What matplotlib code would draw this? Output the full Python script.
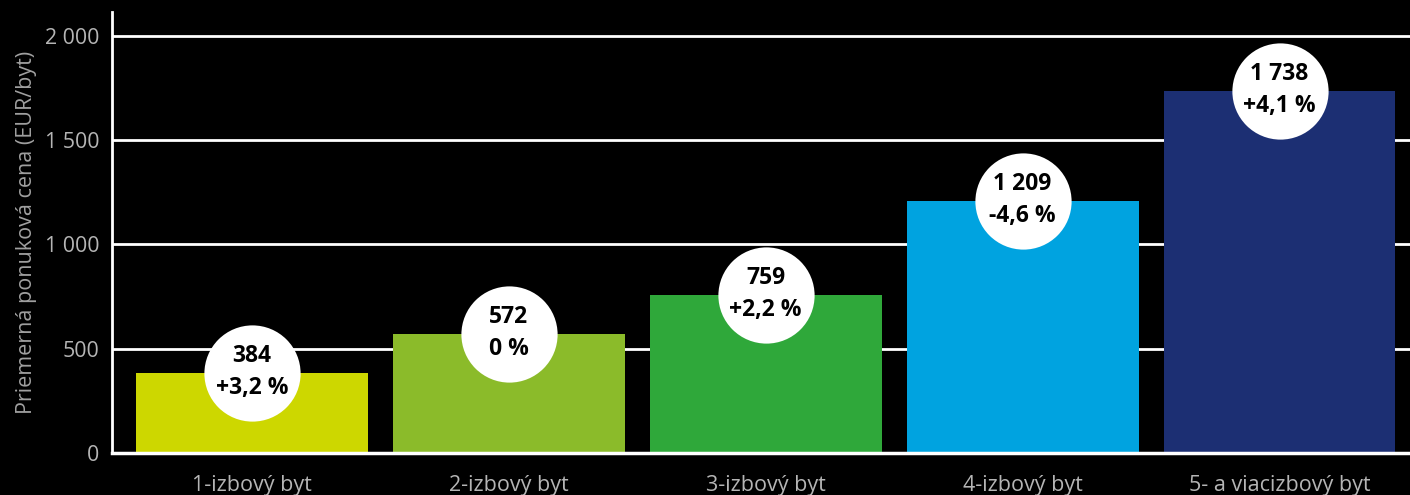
import matplotlib.pyplot as plt

categories = ["1-izbový byt", "2-izbový byt", "3-izbový byt", "4-izbový byt", "5- a viacizbový byt"]
prices = [384, 572, 759, 1209, 1738]
price_labels = ["384", "572", "759", "1 209", "1 738"]
change_labels = ["+3,2 %", "0 %", "+2,2 %", "-4,6 %", "+4,1 %"]
colors = ["#cdd700", "#8bbb2a", "#2fa83a", "#00a3e0", "#1c2f73"]
yticks = [0, 500, 1000, 1500, 2000]
ytick_labels = ["0", "500", "1 000", "1 500", "2 000"]

plt.rcParams['font.family'] = ['Open Sans', 'DejaVu Sans']

fig = plt.figure(figsize=(14.1, 4.95), dpi=100, facecolor="black")
ax = fig.add_axes([0.0794, 0.0848, 0.9206, 0.891])
ax.set_facecolor("black")

x = list(range(len(categories)))
ax.set_axisbelow(True)
ax.yaxis.grid(True, color="white", linewidth=2)
ax.bar(x, prices, width=0.903, color=colors, zorder=2)

# white bubbles with value and change
ax.scatter(x, prices, s=4800, color="white", zorder=3, linewidths=0)
for i in x:
    ax.annotate(price_labels[i], (i, prices[i]), xytext=(0, 17), textcoords="offset pixels",
                ha="center", va="center", fontsize=16.5, fontweight="bold", color="black", zorder=4)
    ax.annotate(change_labels[i], (i, prices[i]), xytext=(0, -15), textcoords="offset pixels",
                ha="center", va="center", fontsize=16.5, fontweight="bold", color="black", zorder=4)

ax.set_xlim(-0.545, 4.508)
ax.set_ylim(0, 2115)
ax.set_yticks(yticks)
ax.set_yticklabels(ytick_labels)
ax.set_xticks(x)
ax.set_xticklabels(categories)
ax.tick_params(axis="y", length=0, pad=9, labelsize=15.4, labelcolor="#b5b5b5")
ax.tick_params(axis="x", length=0, pad=16, labelsize=15.5, labelcolor="#b5b5b5")
ax.set_ylabel("Priemerná ponuková cena (EUR/byt)", color="#a0a0a0", fontsize=15.5, labelpad=6)

for side in ["top", "right"]:
    ax.spines[side].set_visible(False)
ax.spines["left"].set_color("white")
ax.spines["left"].set_linewidth(2)
ax.spines["bottom"].set_color("white")
ax.spines["bottom"].set_linewidth(2.5)
ax.spines["bottom"].set_zorder(5)

fig.savefig("out.png", dpi=100, facecolor="black")
